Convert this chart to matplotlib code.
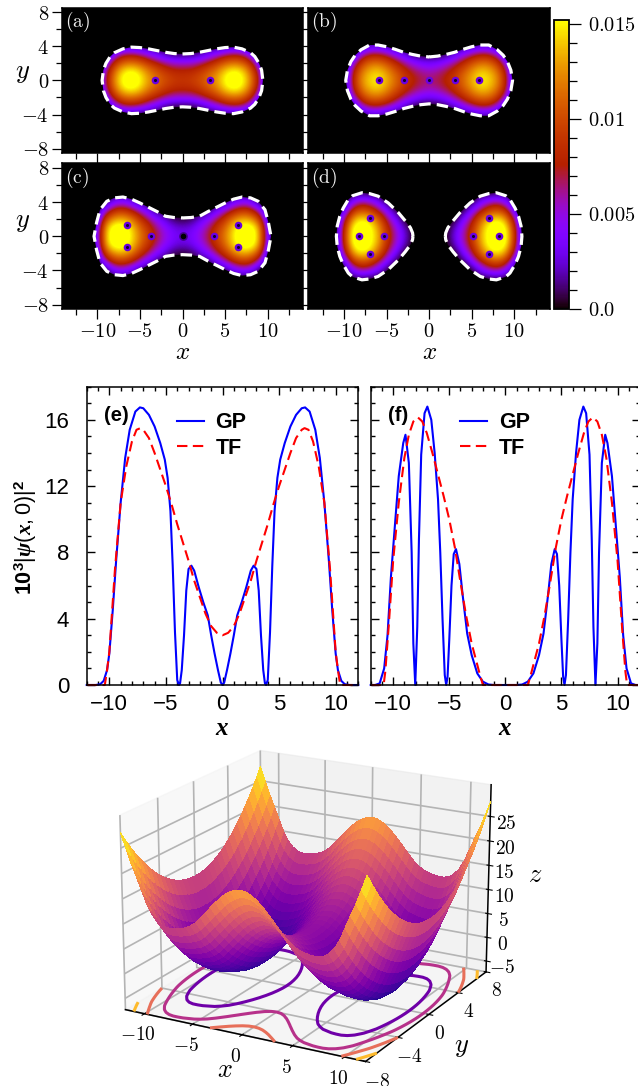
import numpy as np
import matplotlib
matplotlib.use('Agg')
import matplotlib.pyplot as plt
from matplotlib.path import Path
from matplotlib.colors import Normalize
from matplotlib.cm import ScalarMappable
from matplotlib.ticker import MultipleLocator

plt.rcParams['font.family'] = ['Liberation Sans', 'DejaVu Sans']
plt.rcParams['mathtext.fontset'] = 'cm'
plt.rcParams['mathtext.rm'] = 'Liberation Sans'
plt.rcParams['mathtext.it'] = 'Liberation Serif:italic:bold'
plt.rcParams['mathtext.bf'] = 'Liberation Sans:bold'
plt.rcParams['axes.linewidth'] = 1.1
plt.rcParams['grid.color'] = '#b4b4b4'
plt.rcParams['grid.linewidth'] = 1.2

W, H = 638, 1086

# density (a)-(d), in 1e-3, one quadrant: rows y=0..5, columns x=0..12
dens_a = [[9, 9.3, 10.2, 11.5, 13, 15.5, 17, 15.8, 12.5, 7, 0, 0, 0],
          [8.1, 8.3, 9.2, 10.6, 12.1, 14.5, 15.8, 14.8, 11.5, 6, 0, 0, 0],
          [5.3, 5.4, 6.3, 7.7, 9.3, 11, 11.8, 11.2, 8.6, 3.2, 0, 0, 0],
          [.6, .6, 1.5, 3, 4.7, 6.4, 7.2, 6.7, 3.8, 0, 0, 0, 0],
          [0, 0, 0, 0, 0, 0, .8, .4, 0, 0, 0, 0, 0],
          [0, 0, 0, 0, 0, 0, 0, 0, 0, 0, 0, 0, 0]]
dens_b = [[6.5, 7, 8, 9.5, 11.5, 13.5, 15.2, 14.5, 12.5, 8, 0, 0, 0],
          [5.7, 6.2, 7.2, 8.7, 10.7, 12.7, 14.3, 13.7, 11.7, 7.2, 0, 0, 0],
          [3.2, 3.7, 4.8, 6.4, 8.4, 10.4, 11.6, 11.4, 9.3, 4.7, 0, 0, 0],
          [0, 0, .7, 2.5, 4.5, 6.4, 7.6, 7.4, 5.3, .5, 0, 0, 0],
          [0, 0, 0, 0, 0, 1, 2, 2, 0, 0, 0, 0, 0],
          [0, 0, 0, 0, 0, 0, 0, 0, 0, 0, 0, 0, 0]]
dens_c = [[3, 3.5, 5, 7, 9.5, 12, 15, 17, 17, 14, 3.5, 0, 0],
          [2.4, 2.8, 4.3, 6.3, 8.8, 11.3, 14.5, 16.5, 16.5, 13.5, 2.9, 0, 0],
          [.4, .7, 2.2, 4.1, 6.6, 9.1, 12, 13.5, 13, 10, 1.3, 0, 0],
          [0, 0, 0, .4, 2.9, 5.4, 7.8, 9.2, 8.6, 5.3, 0, 0, 0],
          [0, 0, 0, 0, 0, .3, 2.9, 4.3, 3.7, 0, 0, 0, 0],
          [0, 0, 0, 0, 0, 0, 0, 0, 0, 0, 0, 0, 0]]
dens_d = [[0, 0, .3, 2.8, 6, 9, 13.5, 16, 17.5, 16, 9, 0, 0],
          [0, 0, 0, 2.1, 5.4, 8.4, 13, 15.8, 17, 15.5, 8.3, 0, 0],
          [0, 0, 0, 0, 3.5, 6.8, 11, 14, 15, 13, 6.1, 0, 0],
          [0, 0, 0, 0, .4, 3.9, 7.1, 9.6, 10.5, 8.6, 2.4, 0, 0],
          [0, 0, 0, 0, 0, 0, 3.3, 5.4, 6.2, 4, 0, 0, 0],
          [0, 0, 0, 0, 0, 0, 0, 0, .6, 0, 0, 0, 0]]

# TF boundary (white dashes), upper right quarter
edge_a = [(0, 3.1), (1, 3.15), (2, 3.3), (3, 3.5), (4, 3.7), (5, 3.85), (6, 3.9), (7, 3.7),
          (8, 3.25), (8.5, 2.8), (9, 2), (9.3, 1.2), (9.45, 0)]
edge_b = [(0, 2.75), (1, 2.85), (2, 3.05), (3, 3.3), (4, 3.65), (5, 3.95), (6, 4.15), (7, 4.15),
          (8, 3.6), (8.7, 2.95), (9.2, 2.2), (9.6, 1.2), (9.8, 0)]
edge_c = [(0, 2.15), (1, 2.2), (2, 2.35), (3, 2.9), (4, 3.4), (5, 3.9), (6, 4.35), (7, 4.6),
          (8, 4.5), (8.9, 4.1), (9.7, 3.1), (10.1, 1.6), (10.4, 0)]
edge_d = [(1.9, 0), (1.95, .4), (2.2, 1), (2.8, 1.8), (3.6, 2.75), (4.8, 3.9), (6, 4.7), (7, 5), (7.9, 5.1),
          (9, 4.75), (9.5, 4.3), (10.1, 3.3), (10.5, 2.35), (10.8, 1.2), (10.9, 0)]

# vortex positions
vort_a = [(-3.2, 0), (3.2, 0)]
vort_b = [(-5.9, 0), (-3, 0), (0, 0), (3, 0), (5.9, 0)]
vort_c = [(-6.5, 1.3), (-6.5, -1.3), (-3.7, 0), (3.7, 0), (6.5, 1.3), (6.5, -1.3)]
vort_d = [(-8.2, 0), (-5.3, 0), (-7, 2.1), (-7, -2.1), (5.2, 0), (8.2, 0), (7, 2.1), (7, -2.1)]

# (e) and (f), right half of each curve
gp_e_x = [0, .15, .4, .7, 1, 1.3, 1.7, 2.1, 2.5, 2.75, 3, 3.2, 3.4, 3.6, 3.75, 3.85, 4, 4.2, 4.4, 4.6,
          4.85, 5.1, 5.5, 6, 6.5, 7, 7.3, 7.7, 8.2, 8.6, 9, 9.4, 9.7, 10, 10.2, 10.5, 10.8, 11.2, 12]
gp_e_y = [0, .15, .9, 1.9, 3, 4.2, 5, 5.9, 6.9, 7.2, 7, 5.7, 3, .9, .1, 0, .3, 3.2, 7.2, 10.5,
          12.5, 13.6, 14.6, 15.6, 16.3, 16.7, 16.75, 16.5, 15.4, 13.7, 11, 7.5, 4.5, 1.9, .9, .25, .05, 0, 0]
tf_e_x = [0, .5, 1, 1.5, 2, 2.5, 3, 3.5, 4, 4.5, 5, 5.5, 6, 6.5, 7, 7.25, 7.6, 8, 8.5, 9, 9.5, 10, 10.2, 10.4, 12]
tf_e_y = [3, 3.15, 3.55, 4.3, 5.3, 6.3, 7.5, 8.6, 9.7, 10.9, 12, 13, 14, 14.9, 15.4, 15.5, 15.4, 14.7, 13.2,
          11, 7, 2, .9, 0, 0]
gp_f_x = [0, 1, 1.5, 2, 2.5, 3, 3.4, 3.8, 4.1, 4.4, 4.6, 4.8, 5, 5.15, 5.27, 5.4, 5.6, 5.8, 6, 6.3, 6.6, 6.95,
          7.2, 7.5, 7.7, 7.85, 8.03, 8.2, 8.35, 8.6, 8.9, 9.1, 9.5, 9.8, 10.2, 10.5, 10.8, 11.2, 11.6, 12]
gp_f_y = [0, 0, .03, .2, .7, 1.8, 3.1, 5.4, 7.3, 8.2, 7.9, 6, 2.7, .5, 0, .6, 4, 8, 11.2, 14, 16, 16.8,
          16.4, 13.9, 8.8, 3.5, 0, 2.5, 8, 13.4, 15.1, 14.6, 12.6, 10, 6.5, 3, 1, .1, 0, 0]
tf_f_x = [0, 2, 2.3, 3, 3.5, 4, 4.5, 5, 5.5, 6, 6.5, 7, 7.4, 7.8, 8.2, 8.6, 9, 9.5, 10, 10.4, 10.7, 10.85, 12]
tf_f_y = [0, 0, .7, 2.5, 4.2, 6.2, 8.3, 10, 11.4, 12.7, 14, 15.2, 15.9, 16.15, 15.9, 15.1, 13.7, 11, 7.5,
          3.5, .8, 0, 0]

# potential surface: height along y=0 for x=0..12 and rise with |y| for y=0..8, both in steps of .5
well_x = [5, 4.85, 4.4, 3.7, 2.8, 1.75, .6, -.6, -1.8, -2.9, -3.7, -4.3, -4.6, -4.9, -5, -5, -4.7, -4, -2.8,
          -1, 1.5, 4, 6.4, 9.2, 12]
rise_y = [0, .06, .25, .56, 1, 1.56, 2.25, 3.06, 4, 5.06, 6.25, 7.56, 9, 10.56, 12.25, 14.06, 16]
pot_levels = [2, 9, 16, 23]


def rect(l, t, r, b, **kw):
    return fig.add_axes([l / W, 1 - b / H, (r - l) / W, (b - t) / H], **kw)


def mirror(q):
    q = np.array(q, float)
    full = np.hstack([q[:, :0:-1], q])
    return np.vstack([full[:0:-1], full])


def closed_loop(pts):
    p = np.array(pts, float)
    right = np.vstack([p, p[::-1][1:] * [1, -1]])
    if p[0, 0] > 0:  # lobe that does not reach x=0
        return right[:-1]
    return np.vstack([right, (right[::-1] * [-1, 1])[1:-1]])


fig = plt.figure(figsize=(W / 100, H / 100), dpi=100)
norm = Normalize(0, 0.0152)
cmap = 'gnuplot'

panels = [('(a)', dens_a, edge_a, vort_a, (61.7, 7.5, 303.3, 153.3)),
          ('(b)', dens_b, edge_b, vort_b, (308.3, 7.5, 550, 153.3)),
          ('(c)', dens_c, edge_c, vort_c, (61.7, 163.3, 303.3, 309.3)),
          ('(d)', dens_d, edge_d, vort_d, (308.3, 163.3, 550, 309.3))]

for i, (name, dens, edge, vort, box) in enumerate(panels):
    ax = rect(*box)
    ax.set_facecolor('k')
    im = ax.imshow(mirror(dens) * 1e-3, extent=[-12.5, 12.5, -5.5, 5.5], origin='lower', aspect='auto',
                   cmap=cmap, norm=norm, interpolation='bicubic', zorder=1)
    loop = closed_loop(edge)
    if name == '(d)':
        loops = [loop, loop * [-1, 1]]
        clip = Path.make_compound_path(*[Path(np.vstack([l, l[:1]]), closed=True) for l in loops])
    else:
        loops = [loop]
        clip = Path(np.vstack([loop, loop[:1]]), closed=True)
    im.set_clip_path(clip, transform=ax.transData)
    vx, vy = zip(*vort)
    ax.scatter(vx, vy, s=30, color='#6a00e0', linewidths=0, zorder=3)
    ax.scatter(vx, vy, s=5, color='#14002e', linewidths=0, zorder=4)
    if name == '(c)':
        ax.scatter([0], [0], s=40, color='#1a0030', linewidths=0, alpha=.5, zorder=3)
        ax.scatter([0], [0], s=16, color='k', linewidths=0, zorder=4)
    for l in loops:
        ax.plot(np.r_[l[:, 0], l[0, 0]], np.r_[l[:, 1], l[0, 1]], color='w', lw=2.3, dashes=(3.6, 1.9), zorder=5)
    ax.set_xlim(-14.2, 14.2)
    ax.set_ylim(-8.55, 8.55)
    ax.set_xticks([-10, -5, 0, 5, 10])
    ax.set_yticks([-8, -4, 0, 4, 8])
    ax.xaxis.set_minor_locator(MultipleLocator(2.5))
    ax.yaxis.set_minor_locator(MultipleLocator(2))
    ax.tick_params(which='major', direction='out', length=7.2, width=.9, labelsize=14.7, pad=2)
    ax.tick_params(which='minor', direction='out', length=4, width=.9)
    if i >= 2:
        ax.set_xticklabels(['$-10$', '$-5$', '$0$', '$5$', '$10$'])
        ax.set_xlabel('$x$', fontsize=18, va='center')
        ax.xaxis.set_label_coords(.5, -.29)
    else:
        ax.set_xticklabels([])
    if i % 2 == 0:
        ax.set_yticklabels(['$-8$', '$-4$', '$0$', '$4$', '$8$'])
        ax.set_ylabel('$y$', fontsize=19, rotation=0, va='center', ha='center')
        ax.yaxis.set_label_coords(-.161, .55 if i == 0 else .6)
    else:
        ax.set_yticklabels([])
    ax.text(.012, .985, r'$\mathrm{' + name + '}$', transform=ax.transAxes, color='#f0f0f0',
            fontsize=14, va='top', ha='left', zorder=6)

cax = rect(554.3, 20, 569.3, 309)
cb = fig.colorbar(ScalarMappable(norm=norm, cmap=cmap), cax=cax)
cb.set_ticks([0, .005, .01, .015])
cb.set_ticklabels(['$0.0$', '$0.005$', '$0.01$', '$0.015$'])
cb.ax.yaxis.set_minor_locator(MultipleLocator(.001))
cb.ax.tick_params(which='major', length=8.6, width=.9, labelsize=14.7, pad=5)
cb.ax.tick_params(which='minor', length=5.8, width=.9)
cb.outline.set_linewidth(1.3)

# (e) (f)
line_boxes = [('(e)', gp_e_x, gp_e_y, tf_e_x, tf_e_y, (86.7, 386.7, 358.3, 685)),
              ('(f)', gp_f_x, gp_f_y, tf_f_x, tf_f_y, (370.7, 386.7, 640, 685))]
for name, gx, gy, tx, ty, box in line_boxes:
    ax = rect(*box)
    gx, gy = np.array(gx), np.array(gy)
    tx, ty = np.array(tx), np.array(ty)
    ax.plot(np.r_[-gx[::-1], gx[1:]], np.r_[gy[::-1], gy[1:]], color='#0000ff', lw=1.5, label='GP', clip_on=False)
    ax.plot(np.r_[-tx[::-1], tx[1:]], np.r_[ty[::-1], ty[1:]], color='#ff0000', lw=1.5, dashes=(5, 2.6),
            label='TF', clip_on=False)
    ax.set_xlim(-12, 12)
    ax.set_ylim(0, 18)
    ax.set_xticks([-10, -5, 0, 5, 10])
    ax.set_yticks([0, 4, 8, 12, 16])
    ax.xaxis.set_minor_locator(MultipleLocator(1))
    ax.yaxis.set_minor_locator(MultipleLocator(1))
    ax.tick_params(which='major', direction='in', top=True, right=True, length=6, width=1)
    ax.tick_params(which='minor', direction='in', top=True, right=True, length=3, width=1)
    ax.tick_params(axis='x', which='major', labelsize=16, pad=6.5)
    ax.tick_params(axis='y', which='major', labelsize=16, pad=12.5)
    ax.set_xlabel('$x$', fontsize=18, va='center', math_fontfamily='custom')
    ax.xaxis.set_label_coords(.5, -.144)
    if name == '(e)':
        ax.set_ylabel(r'$\mathbf{10}^{\mathbf{3}}|\mathit{\psi(x,0)}|^{\mathbf{2}}$', fontsize=15.5, va='center',
                      math_fontfamily='custom')
        ax.yaxis.set_label_coords(-.225, .493)
    else:
        ax.set_yticklabels([])
    ax.text(.064, .905, name, transform=ax.transAxes, fontsize=14.5, fontweight='bold', va='center')
    ax.legend(loc='upper left', bbox_to_anchor=(.332, .915), frameon=False, borderpad=0, borderaxespad=0,
              handlelength=1.25, handletextpad=.55, labelspacing=.22, prop={'size': 15.5, 'weight': 'bold'})

# 3D potential
ax3 = rect(95, 693, 513, 1111, projection='3d', computed_zorder=False)
ax3.patch.set_alpha(0)
xs = np.arange(-12, 12.5, .5)
ys = np.arange(-8, 8.5, .5)
X, Y = np.meshgrid(xs, ys)
well = np.array(well_x)
rise = np.array(rise_y)
Z = np.add.outer(np.r_[rise[:0:-1], rise], np.r_[well[:0:-1], well])
pnorm = Normalize(-5, 28)
ax3.contour(X, Y, Z, levels=pot_levels, zdir='z', offset=-7.3, cmap='plasma', norm=pnorm, linewidths=2.2, zorder=1)
ax3.plot_surface(X, Y, Z, rstride=1, cstride=1, cmap='plasma', norm=pnorm, linewidth=0, antialiased=False,
                 zorder=2)
ax3.view_init(elev=19, azim=-61)
ax3.set_xlim(-12, 12)
ax3.set_ylim(-8, 8)
ax3.set_zlim(-7.3, 31.4)
ax3.set_xticks([-10, -5, 0, 5, 10])
ax3.set_yticks([-8, -4, 0, 4, 8])
ax3.set_zticks([-5, 0, 5, 10, 15, 20, 25])
ax3.set_xticklabels(['$-10$', '$-5$', '$0$', '$5$', '$10$'])
ax3.set_yticklabels(['$-8$', '$-4$', '$0$', '$4$', '$8$'])
ax3.set_zticklabels(['$-5$', '$0$', '$5$', '$10$', '$15$', '$20$', '$25$'])
ax3.tick_params(labelsize=14, pad=-1)
ax3.set_xlabel('$x$', fontsize=19, labelpad=-2)
ax3.set_ylabel('$y$', fontsize=19, labelpad=0)
ax3.set_zlabel('$z$', fontsize=19, labelpad=0)

fig.savefig('out.png', dpi=100)
